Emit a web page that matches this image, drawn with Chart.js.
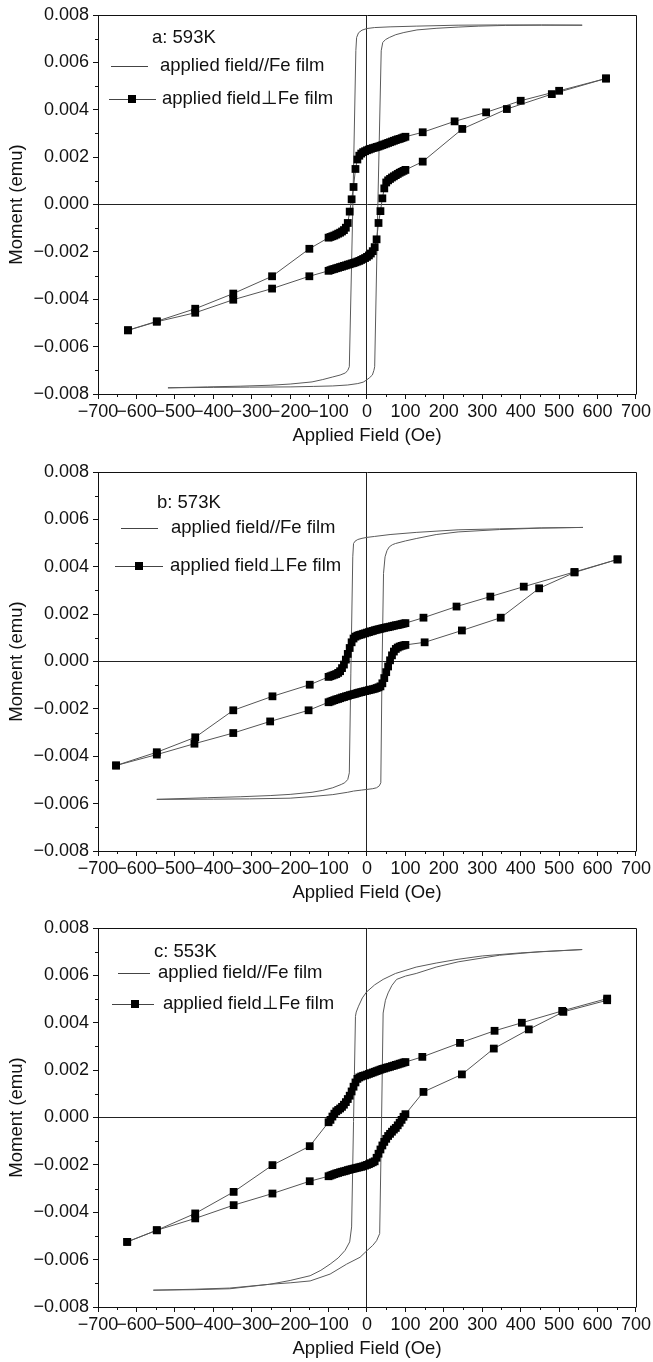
<!DOCTYPE html>
<html>
<head>
<meta charset="utf-8">
<script src="https://cdn.jsdelivr.net/npm/chart.js@4.4.1/dist/chart.umd.min.js"></script>
<style>
  html, body { margin: 0; padding: 0; background: #fff; }
  body { width: 653px; height: 1362px; position: relative; overflow: hidden; }
  canvas { position: absolute; left: 0; }
</style>
</head>
<body>
<canvas id="panelA" width="653" height="450" style="top:0px"></canvas>
<canvas id="panelB" width="653" height="450" style="top:457px"></canvas>
<canvas id="panelC" width="653" height="450" style="top:913px"></canvas>
<script>
// axis ticks
const fieldTicks = [-700, -600, -500, -400, -300, -200, -100, 0, 100, 200, 300, 400, 500, 600, 700];
const fieldMinor = [-650, -550, -450, -350, -250, -150, -50, 50, 150, 250, 350, 450, 550, 650];
const momentTicks = [-0.008, -0.006, -0.004, -0.002, 0, 0.002, 0.004, 0.006, 0.008];
const momentMinor = [-0.007, -0.005, -0.003, -0.001, 0.001, 0.003, 0.005, 0.007];

// fine field sweep used near zero (Oe)
const denseDown = [100, 95, 90, 85, 80, 75, 70, 65, 60, 55, 50, 45, 40, 35, 30, 25, 20, 15, 10, 5, 0,
  -5, -10, -15, -20, -25, -30, -35, -40, -45, -50, -55, -60, -65, -70, -75, -80, -85, -90, -95, -100];
const denseUp = [-100, -95, -90, -85, -80, -75, -70, -65, -60, -55, -50, -45, -40, -35, -30, -25, -20, -15, -10, -5, 0,
  5, 10, 15, 20, 25, 30, 35, 40, 45, 50, 55, 60, 65, 70, 75, 80, 85, 90, 95, 100];

// ---- a: 593K ---- (moments in 1e-3 emu)
const parFieldA = [560, 454, 340, 237, 128, 60, 20, 0, -13, -22, -27, -29, -37, -46, -50, -56, -70, -89, -115, -143, -200, -252, -330, -415, -518,
  -518, -400, -306, -198, -140, -89, -50, -24, -10, -2, 6, 14, 18, 20, 28, 37, 41, 48, 58, 75, 96, 130, 182, 237, 291, 360, 454, 560];
const parMomentA = [7.57, 7.58, 7.58, 7.57, 7.53, 7.50, 7.47, 7.43, 7.36, 7.25, 7.05, 6.5, -0.2, -6.85, -7.0, -7.11, -7.20, -7.28, -7.39, -7.49, -7.58, -7.63, -7.67, -7.70, -7.74,
  -7.74, -7.72, -7.71, -7.70, -7.68, -7.66, -7.62, -7.56, -7.50, -7.42, -7.32, -7.2, -7.0, -6.85, -0.2, 6.49, 6.84, 6.96, 7.05, 7.17, 7.26, 7.37, 7.44, 7.49, 7.53, 7.56, 7.57, 7.57];
const perpFieldA = [622, 500, 400, 310, 228, 145, ...denseDown, -150, -247, -348, -447, -547, -622,
  -622, -547, -447, -348, -247, -150, ...denseUp, 145, 248, 364, 481, 622];
const perpMomentA = [5.32, 4.80, 4.38, 3.89, 3.51, 3.05,
  2.86, 2.83, 2.80, 2.77, 2.75, 2.72, 2.69, 2.66, 2.63, 2.60, 2.57, 2.54, 2.51, 2.48, 2.45, 2.43, 2.40, 2.38, 2.35, 2.32,
  2.29, 2.25, 2.21, 2.15, 2.06, 1.90, 1.50, 0.74, 0.22, -0.30, -0.78, -0.98, -1.08, -1.14, -1.19, -1.23, -1.27, -1.31, -1.34, -1.37, -1.40,
  -1.87, -3.03, -3.76, -4.40, -4.93, -5.31,
  -5.31, -4.95, -4.57, -4.02, -3.55, -3.03,
  -2.80, -2.77, -2.74, -2.72, -2.69, -2.67, -2.64, -2.62, -2.59, -2.57, -2.54, -2.52, -2.49, -2.47, -2.44, -2.41, -2.38, -2.34, -2.30, -2.26,
  -2.21, -2.15, -2.07, -1.97, -1.80, -1.47, -0.78, -0.28, 0.26, 0.68, 0.93, 1.02, 1.08, 1.14, 1.19, 1.24, 1.29, 1.34, 1.38, 1.42, 1.46,
  1.81, 3.19, 4.03, 4.66, 5.32];

// ---- b: 573K ----
const parFieldB = [562, 454, 345, 237, 128, 60, 20, 0, -13, -24, -31, -35, -37, -42, -46, -50, -58, -67, -89, -115, -143, -200, -252, -330, -415, -547,
  -547, -400, -306, -200, -143, -89, -50, -35, -15, 0, 15, 25, 32, 36, 39, 43, 47, 52, 58, 66, 74, 100, 128, 180, 237, 345, 450, 562];
const parMomentB = [5.66, 5.64, 5.60, 5.56, 5.45, 5.36, 5.28, 5.24, 5.20, 5.15, 5.08, 4.98, 4.42, -0.49, -4.70, -4.98, -5.12, -5.19, -5.33, -5.44, -5.52, -5.61, -5.66, -5.71, -5.75, -5.82,
  -5.82, -5.81, -5.80, -5.77, -5.70, -5.62, -5.52, -5.47, -5.43, -5.40, -5.37, -5.33, -5.25, -5.12, -0.49, 3.72, 4.42, 4.68, 4.84, 4.93, 4.98, 5.09, 5.19, 5.36, 5.47, 5.57, 5.63, 5.66];
const perpFieldB = [652, 540, 408, 321, 233, 147, ...denseDown, -149, -246, -348, -447, -547, -653,
  -653, -547, -449, -348, -252, -152, ...denseUp, 150, 247, 348, 448, 540, 652];
const perpMomentB = [4.31, 3.78, 3.16, 2.74, 2.32, 1.85,
  1.62, 1.60, 1.58, 1.56, 1.54, 1.53, 1.51, 1.49, 1.47, 1.45, 1.44, 1.42, 1.40, 1.38, 1.36, 1.34, 1.32, 1.29, 1.27, 1.24,
  1.22, 1.19, 1.17, 1.14, 1.12, 1.09, 1.05, 0.97, 0.81, 0.57, 0.32, 0.08, -0.13, -0.28, -0.41, -0.48, -0.53, -0.56, -0.59, -0.62, -0.65,
  -0.98, -1.47, -2.06, -3.20, -3.83, -4.39,
  -4.39, -3.93, -3.47, -3.02, -2.53, -2.06,
  -1.72, -1.69, -1.66, -1.63, -1.60, -1.58, -1.55, -1.52, -1.50, -1.47, -1.45, -1.42, -1.40, -1.38, -1.36, -1.33, -1.31, -1.29, -1.27, -1.25,
  -1.23, -1.21, -1.19, -1.17, -1.15, -1.12, -1.09, -1.05, -0.92, -0.70, -0.45, -0.21, 0.05, 0.26, 0.42, 0.53, 0.59, 0.63, 0.66, 0.68, 0.70,
  0.81, 1.31, 1.85, 3.09, 3.76, 4.31];

// ---- c: 553K ----
const parFieldC = [560, 400, 300, 237, 180, 128, 74, 42, 20, -1, -12, -22, -28, -30, -35, -40, -45, -57, -75, -96, -120, -148, -200, -253, -357, -450, -556,
  -556, -450, -357, -253, -200, -148, -96, -53, -18, 0, 15, 25, 33, 38, 42, 48, 55, 65, 77, 100, 128, 180, 237, 345, 450, 560];
const parMomentC = [7.09, 6.95, 6.82, 6.68, 6.52, 6.35, 6.08, 5.83, 5.60, 5.30, 5.05, 4.70, 4.45, 4.27, -0.17, -4.62, -5.25, -5.61, -5.93, -6.19, -6.45, -6.68, -6.88, -7.04, -7.20, -7.25, -7.29,
  -7.29, -7.27, -7.23, -7.04, -6.98, -6.90, -6.61, -6.19, -5.90, -5.62, -5.40, -5.20, -4.90, 0.0, 4.41, 4.95, 5.26, 5.58, 5.83, 5.97, 6.08, 6.35, 6.57, 6.85, 7.00, 7.09];
const perpFieldC = [625, 508, 403, 332, 242, 144, ...denseDown, -149, -246, -347, -447, -547, -624,
  -624, -547, -447, -347, -246, -149, ...denseUp, 147, 247, 330, 421, 511, 625];
const perpMomentC = [5.02, 4.50, 4.00, 3.66, 3.15, 2.56,
  2.34, 2.32, 2.29, 2.27, 2.24, 2.22, 2.19, 2.17, 2.14, 2.12, 2.10, 2.07, 2.05, 2.02, 1.99, 1.96, 1.93, 1.90, 1.87, 1.84,
  1.81, 1.78, 1.76, 1.73, 1.69, 1.63, 1.48, 1.30, 1.10, 0.92, 0.78, 0.65, 0.54, 0.45, 0.38, 0.32, 0.26, 0.16, 0.04, -0.10, -0.20,
  -1.21, -2.01, -3.14, -4.05, -4.76, -5.25,
  -5.25, -4.76, -4.26, -3.70, -3.21, -2.69,
  -2.48, -2.45, -2.42, -2.39, -2.36, -2.34, -2.31, -2.29, -2.27, -2.25, -2.22, -2.20, -2.18, -2.16, -2.14, -2.12, -2.10, -2.08, -2.06, -2.03,
  -2.00, -1.97, -1.93, -1.89, -1.85, -1.70, -1.53, -1.35, -1.18, -1.03, -0.90, -0.78, -0.69, -0.60, -0.51, -0.44, -0.33, -0.22, -0.10, 0.03, 0.14,
  1.08, 1.82, 2.91, 3.72, 4.46, 4.95];

const FONT = '"Liberation Sans", Arial, Helvetica, sans-serif';
Chart.defaults.font.family = FONT;
Chart.defaults.color = '#111';

const minus = s => s.replace('-', '\u2212');
const isZero = v => Math.abs(v) < 1e-9;

// frame, minor ticks and the in-plot legend
const framePlugin = {
    id: 'frame',
    afterDraw: (chart, args, opts) => {
        const { ctx, chartArea: a, scales: { x, y } } = chart;
        const px = v => Math.round(v) + 0.5;
        ctx.save();
        ctx.strokeStyle = '#111';
        ctx.lineWidth = 1;
        ctx.beginPath();
        ctx.moveTo(px(a.left), px(a.top));
        ctx.lineTo(px(a.right), px(a.top));
        ctx.lineTo(px(a.right), px(a.bottom));
        fieldMinor.forEach(v => {
            const xp = px(x.getPixelForValue(v));
            ctx.moveTo(xp, a.bottom);
            ctx.lineTo(xp, a.bottom + 3);
        });
        momentMinor.forEach(v => {
            const yp = px(y.getPixelForValue(v));
            ctx.moveTo(a.left, yp);
            ctx.lineTo(a.left - 3, yp);
        });
        ctx.stroke();

        const lg = opts.legend;
        ctx.fillStyle = '#111';
        ctx.font = '18.5px ' + FONT;
        ctx.textBaseline = 'middle';
        ctx.fillText(lg.title, a.left + lg.title_x, a.top + lg.title_y);
        ctx.fillText('applied field//Fe film', a.left + lg.text1_x, a.top + lg.row1_y);
        ctx.fillText('applied field\u22a5Fe film', a.left + lg.text2_x, a.top + lg.row2_y);

        ctx.strokeStyle = '#444';
        ctx.beginPath();
        ctx.moveTo(a.left + lg.line1[0], px(a.top + lg.row1_y));
        ctx.lineTo(a.left + lg.line1[1], px(a.top + lg.row1_y));
        ctx.moveTo(a.left + lg.line2[0], px(a.top + lg.row2_y));
        ctx.lineTo(a.left + lg.line2[1], px(a.top + lg.row2_y));
        ctx.stroke();
        ctx.fillStyle = '#000';
        ctx.fillRect(a.left + lg.mark_x - 4, a.top + lg.row2_y - 4, 8, 8);
        ctx.restore();
    }
};

function makePanel(id, parField, parMoment, perpField, perpMoment, legend) {
    const parData = parField.map((h, i) => ({ x: h, y: parMoment[i] / 1000 }));
    const perpData = perpField.map((h, i) => ({ x: h, y: perpMoment[i] / 1000 }));

    new Chart(document.getElementById(id), {
        type: 'scatter',
        data: {
            datasets: [
                {
                    label: 'applied field\u22a5Fe film',
                    data: perpData,
                    showLine: true,
                    borderColor: '#555',
                    borderWidth: 1,
                    pointStyle: 'rect',
                    pointRadius: 5.5,
                    pointBackgroundColor: '#000',
                    pointBorderColor: '#000',
                    pointBorderWidth: 0
                },
                {
                    label: 'applied field//Fe film',
                    data: parData,
                    showLine: true,
                    borderColor: '#5a5a5a',
                    borderWidth: 1,
                    pointRadius: 0,
                    tension: 0
                }
            ]
        },
        options: {
            responsive: false,
            animation: false,
            layout: { padding: { left: 0, right: 17, top: 15, bottom: 0 } },
            plugins: {
                legend: { display: false },
                tooltip: { enabled: false },
                frame: { legend: legend }
            },
            scales: {
                x: {
                    type: 'linear',
                    min: -700,
                    max: 700,
                    afterBuildTicks: s => { s.ticks = fieldTicks.map(v => ({ value: v })); },
                    afterFit: s => { s.height = 56; },
                    ticks: {
                        autoSkip: false,
                        maxRotation: 0,
                        padding: 2,
                        font: { size: 18 },
                        color: '#111',
                        callback: v => minus(String(v))
                    },
                    grid: {
                        color: c => (c.tick && isZero(c.tick.value)) ? '#222' : 'rgba(0,0,0,0)',
                        tickColor: '#111',
                        tickLength: 5,
                        lineWidth: 1
                    },
                    border: { display: true, color: '#111', width: 1 },
                    title: {
                        display: true,
                        text: 'Applied Field (Oe)',
                        font: { size: 18.5 },
                        color: '#111',
                        padding: { top: 0, bottom: 3 }
                    }
                },
                y: {
                    type: 'linear',
                    min: -0.008,
                    max: 0.008,
                    afterBuildTicks: s => { s.ticks = momentTicks.map(v => ({ value: v })); },
                    afterFit: s => { s.width = 98; },
                    ticks: {
                        padding: 4,
                        font: { size: 18 },
                        color: '#111',
                        callback: v => minus(Number(v).toFixed(3))
                    },
                    grid: {
                        color: c => (c.tick && isZero(c.tick.value)) ? '#222' : 'rgba(0,0,0,0)',
                        tickColor: '#111',
                        tickLength: 5,
                        lineWidth: 1
                    },
                    border: { display: true, color: '#111', width: 1 },
                    title: {
                        display: true,
                        text: 'Moment (emu)',
                        font: { size: 18.5 },
                        color: '#111',
                        padding: { top: 6, bottom: 0 }
                    }
                }
            }
        },
        plugins: [framePlugin]
    });
}

makePanel('panelA', parFieldA, parMomentA, perpFieldA, perpMomentA,
    { title: 'a: 593K', title_x: 54, title_y: 23, row1_y: 51, line1: [13, 50], text1_x: 62, row2_y: 84, line2: [11, 58], mark_x: 34, text2_x: 64 });
makePanel('panelB', parFieldB, parMomentB, perpFieldB, perpMomentB,
    { title: 'b: 573K', title_x: 59, title_y: 31, row1_y: 56, line1: [23, 60], text1_x: 73, row2_y: 94, line2: [17, 65], mark_x: 41, text2_x: 72 });
makePanel('panelC', parFieldC, parMomentC, perpFieldC, perpMomentC,
    { title: 'c: 553K', title_x: 56, title_y: 24, row1_y: 45, line1: [20, 52], text1_x: 60, row2_y: 76, line2: [14, 56], mark_x: 37, text2_x: 65 });
</script>
</body>
</html>
